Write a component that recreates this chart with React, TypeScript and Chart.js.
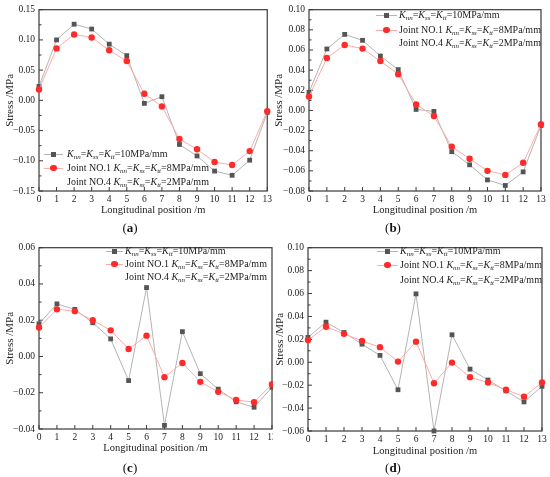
import React, { useEffect, useRef } from "react";
import { Chart, registerables } from "chart.js";
Chart.register(...registerables);

// ---------- data ----------
const positions = [0, 1, 2, 3, 4, 5, 6, 7, 8, 9, 10, 11, 12, 13];

const aStiff10 = [0.023, 0.1, 0.126, 0.118, 0.093, 0.074, -0.005, 0.006, -0.073, -0.092, -0.117, -0.124, -0.099, -0.02];
const aJoint = [0.018, 0.086, 0.109, 0.104, 0.083, 0.065, 0.011, -0.01, -0.064, -0.081, -0.102, -0.107, -0.084, -0.018];

const bStiff10 = [0.018, 0.061, 0.0755, 0.0696, 0.054, 0.0405, 0.001, -0.001, -0.041, -0.054, -0.069, -0.0745, -0.061, -0.015];
const bJoint = [0.0137, 0.052, 0.065, 0.0614, 0.049, 0.036, 0.006, -0.0056, -0.036, -0.048, -0.06, -0.064, -0.052, -0.0137];

const cStiff10 = [0.018, 0.029, 0.026, 0.0186, 0.0097, -0.0133, 0.038, -0.038, 0.0137, -0.0095, -0.018, -0.025, -0.028, -0.017];
const cJoint = [0.016, 0.026, 0.025, 0.02, 0.0144, 0.0041, 0.0115, -0.0114, -0.0036, -0.014, -0.0195, -0.024, -0.0252, -0.0153];

const dStiff10 = [0.0217, 0.035, 0.026, 0.0158, 0.006, -0.024, 0.0597, -0.06, 0.024, -0.006, -0.0155, -0.025, -0.0346, -0.021];
const dJoint = [0.0194, 0.031, 0.0248, 0.0186, 0.0132, 0.0006, 0.018, -0.0183, -0.0003, -0.013, -0.0177, -0.024, -0.03, -0.0177];

const aYRange = [-0.15, 0.15, 0.05];
const bYRange = [-0.08, 0.1, 0.02];
const cYRange = [-0.04, 0.06, 0.02];
const dYRange = [-0.06, 0.1, 0.02];

const xTitle = "Longitudinal position /m";
const yTitle = "Stress /MPa";
const panelLabels = ["(a)", "(b)", "(c)", "(d)"];
const legendValues = ["10", "8", "2"];
const legendPrefixes = ["", "Joint NO.1 ", "Joint NO.4 "];

// ---------- styles ----------
const SERIF = "'Liberation Serif', 'Times New Roman', serif";
const GRAY_LINE = "#b4b4b4";
const GRAY_MARK = "#555555";
const RED_LINE = "#ffaaaa";
const RED_MARK = "#ff2a2a";
const AXIS = "#3a3a3a";

type Layout = {
  cl: number; ct: number; cw: number; ch: number; // canvas box
  pl: number; pr: number; pt: number; pb: number; // plot area
  yTitleX: number; xTitleY: number;
  clipW?: number;
  label: string; labelX: number; labelY: number;
  legend: { x0: number; x1: number; tx: number; rows: number[] };
};

const framePlugin = {
  id: "frameTicks",
  beforeDatasetsDraw(chart: any) {
    const { ctx, chartArea: a, scales } = chart;
    ctx.save();
    ctx.strokeStyle = AXIS;
    ctx.lineWidth = 1.2;
    ctx.strokeRect(a.left, a.top, a.right - a.left, a.bottom - a.top);
    ctx.lineWidth = 1;
    const line = (x1: number, y1: number, x2: number, y2: number) => {
      ctx.beginPath();
      ctx.moveTo(x1, y1);
      ctx.lineTo(x2, y2);
      ctx.stroke();
    };
    const xs = scales.x;
    xs.ticks.forEach((t: any) => {
      const px = xs.getPixelForValue(t.value);
      line(px, a.bottom, px, a.bottom - 4);
    });
    const ys = scales.y;
    ys.ticks.forEach((t: any, i: number) => {
      const py = ys.getPixelForValue(t.value);
      line(a.left, py, a.left + 4, py);
      if (i < ys.ticks.length - 1) {
        const mid = ys.getPixelForValue((t.value + ys.ticks[i + 1].value) / 2);
        line(a.left, mid, a.left + 2.5, mid);
      }
    });
    ctx.restore();
  },
};

function fmt(v: number) {
  const s = Math.abs(v).toFixed(2);
  return v < -1e-9 ? "\u2212" + s : s;
}

function Panel({ lay, gray, red, yr }: { lay: Layout; gray: number[]; red: number[]; yr: number[] }) {
  const ref = useRef<HTMLCanvasElement>(null);
  useEffect(() => {
    const yTitleFont = { family: SERIF, size: 11 };
    const xTitleFont = { family: SERIF, size: 10.5 };
    const yLh = 11 * 1.2;
    const xLh = 10.5 * 1.2;
    const xScaleBottom = lay.xTitleY - lay.ct + xLh / 2;
    const chart = new Chart(ref.current as HTMLCanvasElement, {
      type: "line",
      data: {
        labels: positions,
        datasets: [
          {
            label: "K10",
            data: positions.map((p, i) => ({ x: p, y: gray[i] })),
            borderColor: GRAY_LINE,
            borderWidth: 1,
            pointStyle: "rect",
            pointRadius: 3.4,
            pointBackgroundColor: GRAY_MARK,
            pointBorderColor: GRAY_MARK,
            pointBorderWidth: 0,
            tension: 0,
            clip: false,
            order: 2,
          },
          {
            label: "Joint",
            data: positions.map((p, i) => ({ x: p, y: red[i] })),
            borderColor: RED_LINE,
            borderWidth: 1,
            pointStyle: "circle",
            pointRadius: 3.2,
            pointBackgroundColor: RED_MARK,
            pointBorderColor: RED_MARK,
            pointBorderWidth: 0,
            tension: 0,
            clip: false,
            order: 1,
          },
        ],
      } as any,
      options: {
        animation: false,
        responsive: false,
        events: [],
        layout: {
          padding: {
            left: 0,
            top: lay.pt - lay.ct,
            right: lay.cl + lay.cw - lay.pr,
            bottom: lay.ch - xScaleBottom,
          },
        },
        plugins: { legend: { display: false }, tooltip: { enabled: false } },
        scales: {
          x: {
            type: "linear",
            min: 0,
            max: 13,
            grid: { display: false, drawTicks: false, tickLength: 0 },
            border: { display: false },
            ticks: {
              stepSize: 1,
              padding: 3,
              color: "#222",
              font: { family: SERIF, size: 9.5 },
              maxRotation: 0,
              autoSkip: false,
            },
            title: {
              display: true,
              text: xTitle,
              color: "#222",
              font: xTitleFont,
              padding: { top: 0, bottom: 0 },
            },
            afterFit: (s: any) => {
              s.height = xScaleBottom - (lay.pb - lay.ct);
            },
          },
          y: {
            type: "linear",
            min: yr[0],
            max: yr[1],
            grid: { display: false, drawTicks: false, tickLength: 0 },
            border: { display: false },
            ticks: {
              stepSize: yr[2],
              padding: 4,
              color: "#222",
              font: { family: SERIF, size: 9.5 },
              callback: (v: any) => fmt(Number(v)),
            },
            title: {
              display: true,
              text: yTitle,
              color: "#222",
              font: yTitleFont,
              padding: { top: Math.max(0, lay.yTitleX - lay.cl - yLh / 2), bottom: 0 },
            },
            afterFit: (s: any) => {
              s.width = lay.pl - lay.cl;
            },
          },
        },
      } as any,
      plugins: [framePlugin],
    });
    return () => chart.destroy();
  }, []);

  const lg = lay.legend;
  const legendText = (i: number) => (
    <span>
      {legendPrefixes[i]}
      <i>K</i>
      <sub style={{ fontSize: "0.7em", verticalAlign: "-0.3em", lineHeight: 0 }}><i>nn</i></sub>=
      <i>K</i>
      <sub style={{ fontSize: "0.7em", verticalAlign: "-0.3em", lineHeight: 0 }}><i>ss</i></sub>=
      <i>K</i>
      <sub style={{ fontSize: "0.7em", verticalAlign: "-0.3em", lineHeight: 0 }}><i>tt</i></sub>=
      {legendValues[i]}MPa/mm
    </span>
  );
  const mid = (lg.x0 + lg.x1) / 2;

  return (
    <>
      <div
        style={{
          position: "absolute",
          left: lay.cl,
          top: lay.ct,
          width: lay.clipW ?? lay.cw,
          height: lay.ch,
          overflow: "hidden",
        }}
      >
        <canvas ref={ref} width={lay.cw} height={lay.ch} style={{ display: "block" }} />
      </div>
      <div
        style={{
          position: "absolute",
          left: lay.labelX - 20,
          width: 40,
          top: lay.labelY - 8,
          height: 16,
          lineHeight: "16px",
          textAlign: "center",
          fontFamily: SERIF,
          fontSize: 13,
          color: "#111",
        }}
      >
        (<b>{lay.label.slice(1, -1)}</b>)
      </div>
      {/* legend */}
      <div style={{ position: "absolute", left: lg.x0, top: lg.rows[0] - 0.5, width: lg.x1 - lg.x0, height: 1, background: GRAY_LINE }} />
      <div style={{ position: "absolute", left: mid - 2.5, top: lg.rows[0] - 2.5, width: 5, height: 5, background: GRAY_MARK }} />
      <div style={{ position: "absolute", left: lg.x0, top: lg.rows[1] - 0.5, width: lg.x1 - lg.x0, height: 1, background: RED_LINE }} />
      <div style={{ position: "absolute", left: mid - 3.2, top: lg.rows[1] - 3.2, width: 6.4, height: 6.4, borderRadius: "50%", background: RED_MARK }} />
      {[0, 1, 2].map((i) => (
        <div
          key={i}
          style={{
            position: "absolute",
            left: lg.tx,
            top: lg.rows[i] - 7,
            height: 14,
            lineHeight: "14px",
            whiteSpace: "nowrap",
            fontFamily: SERIF,
            fontSize: 10,
            color: "#222",
          }}
        >
          {legendText(i)}
        </div>
      ))}
    </>
  );
}

const layouts: Layout[] = [
  {
    cl: 0, ct: 0, cw: 275, ch: 238,
    pl: 39, pr: 268, pt: 7, pb: 191,
    yTitleX: 10, xTitleY: 210,
    label: panelLabels[0], labelX: 130, labelY: 228,
    legend: { x0: 44, x1: 63, tx: 67, rows: [154, 168, 182] },
  },
  {
    cl: 272, ct: 0, cw: 278, ch: 238,
    pl: 309, pr: 541, pt: 7, pb: 191,
    yTitleX: 279, xTitleY: 210,
    label: panelLabels[1], labelX: 393, labelY: 228,
    legend: { x0: 376, x1: 397, tx: 399, rows: [15, 30, 43] },
  },
  {
    cl: 0, ct: 238, cw: 292, ch: 239, clipW: 273,
    pl: 39, pr: 272, pt: 243, pb: 429,
    yTitleX: 10, xTitleY: 448,
    label: panelLabels[2], labelX: 130, labelY: 468,
    legend: { x0: 106, x1: 123, tx: 125, rows: [251, 264, 277] },
  },
  {
    cl: 272, ct: 238, cw: 278, ch: 239,
    pl: 308, pr: 542, pt: 241, pb: 431,
    yTitleX: 280, xTitleY: 451,
    label: panelLabels[3], labelX: 393, labelY: 468,
    legend: { x0: 377, x1: 398, tx: 400, rows: [251, 265, 280] },
  },
];

export default function App() {
  return (
    <div style={{ position: "absolute", left: 0, top: 0, width: 550, height: 477, background: "#fff", overflow: "hidden" }}>
      <Panel lay={layouts[0]} gray={aStiff10} red={aJoint} yr={aYRange} />
      <Panel lay={layouts[1]} gray={bStiff10} red={bJoint} yr={bYRange} />
      <Panel lay={layouts[2]} gray={cStiff10} red={cJoint} yr={cYRange} />
      <Panel lay={layouts[3]} gray={dStiff10} red={dJoint} yr={dYRange} />
    </div>
  );
}
